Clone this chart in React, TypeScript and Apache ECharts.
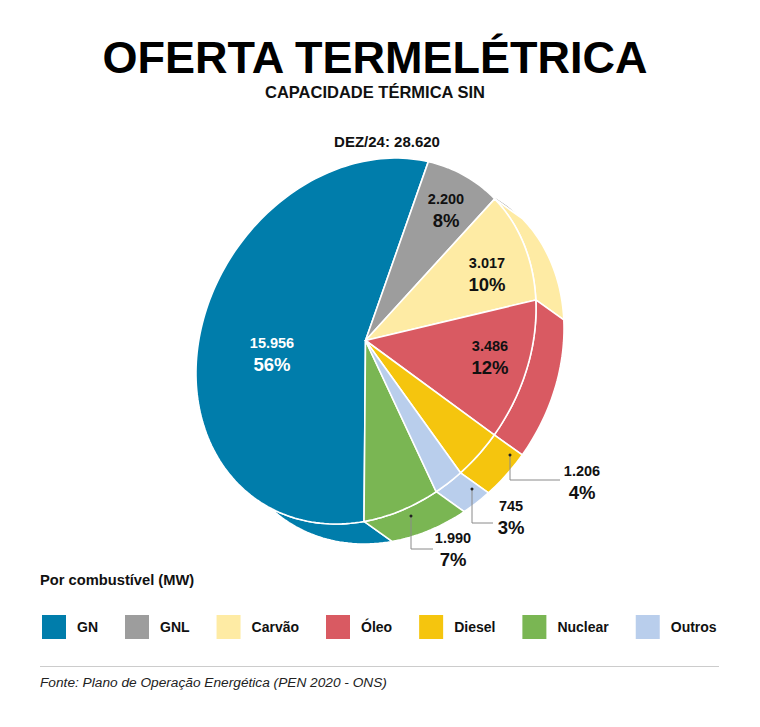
import React, { useEffect, useRef } from "react";
import * as echarts from "echarts";

const categories = ["GN", "GNL", "Carvão", "Óleo", "Diesel", "Nuclear", "Outros"];
const pieOrder = ["GN", "GNL", "Carvão", "Óleo", "Diesel", "Outros", "Nuclear"];
const capacityMW = [15956, 2200, 3017, 3486, 1206, 745, 1990];
const percentLabels = [56, 8, 10, 12, 4, 3, 7];
const colorsByName: Record<string, string> = {
  GN: "#007dab",
  GNL: "#9d9d9d",
  "Carvão": "#feeba4",
  "Óleo": "#d95a62",
  Diesel: "#f5c50e",
  Outros: "#b9ceec",
  Nuclear: "#7ab653",
};
// label centres per slice, in pie order
const labelPos = [[272, 343], [446, 199], [487, 263], [490, 346], [582, 471], [511, 506], [453, 538]];
// leader lines for the small slices: dot, elbow, end
const leaders: Record<string, number[][]> = {
  Diesel: [[510, 455], [510, 480], [560, 480]],
  Outros: [[472, 489], [472, 523], [493, 523]],
  Nuclear: [[411, 516], [411, 549], [433, 549]],
};

const FONT = "'Liberation Sans', Arial, sans-serif";
const CX = 366;
const CY = 341;
const DEPTH = [28, 20];
const START_DEG = 175.4;
const total = capacityMW.reduce((a, b) => a + b, 0);

const fmt = (v: number) => String(v).replace(/\B(?=(\d{3})+$)/g, ".");

function sliceAngles(i: number): [number, number] {
  let before = 0;
  for (let k = 0; k < i; k++) before += capacityMW[k];
  const a = START_DEG + (before / total) * 360;
  return [a, a + (capacityMW[i] / total) * 360];
}

function rimPoint(deg: number): number[] {
  const r = (deg * Math.PI) / 180;
  const s = Math.sin(r);
  const c = Math.cos(r);
  return [CX + 169.3 * s + 15.6 * c, CY - 15.6 * s - 182.3 * c];
}

function arc(a0: number, a1: number): number[][] {
  const n = Math.max(2, Math.ceil((a1 - a0) / 1.5));
  const pts: number[][] = [];
  for (let k = 0; k <= n; k++) pts.push(rimPoint(a0 + ((a1 - a0) * k) / n));
  return pts;
}

const topFaceSeries = (name: string) => {
  const i = pieOrder.indexOf(name);
  return {
    type: "custom",
    name,
    coordinateSystem: "none",
    z: 3,
    silent: true,
    itemStyle: { color: colorsByName[name] },
    data: [capacityMW[i]],
    renderItem: () => {
      const [a0, a1] = sliceAngles(i);
      const [lx, ly] = labelPos[i];
      const labelColor = name === "GN" ? "#ffffff" : "#111111";
      const children: any[] = [
        {
          type: "polygon",
          shape: { points: [[CX - 0.5, CY - 0.5], ...arc(a0, a1)] },
          style: { fill: colorsByName[name], stroke: "#ffffff", lineWidth: 1.6, lineJoin: "round" },
        },
        {
          type: "text",
          style: { x: lx, y: ly, text: fmt(capacityMW[i]), fill: labelColor, font: `bold 14.5px ${FONT}`, textAlign: "center", verticalAlign: "middle" },
        },
        {
          type: "text",
          style: { x: lx, y: ly + 21, text: `${percentLabels[i]}%`, fill: labelColor, font: `bold 18.5px ${FONT}`, textAlign: "center", verticalAlign: "middle" },
        },
      ];
      const leader = leaders[name];
      if (leader) {
        children.push({ type: "polyline", shape: { points: leader }, style: { fill: "none", stroke: "#8a8a8a", lineWidth: 1 } });
        children.push({ type: "circle", shape: { cx: leader[0][0], cy: leader[0][1], r: 1.5 }, style: { fill: "#222222" } });
      }
      return { type: "group", children };
    },
  };
};

const sideSeries = {
  type: "custom",
  name: "Lateral",
  coordinateSystem: "none",
  z: 2,
  silent: true,
  data: capacityMW,
  renderItem: (params: any) => {
    const i = params.dataIndex;
    const [a0, a1] = sliceAngles(i);
    const rim = arc(a0, a1);
    const shifted = rim.map(([x, y]) => [x + DEPTH[0], y + DEPTH[1]]).reverse();
    return {
      type: "polygon",
      shape: { points: [...rim, ...shifted] },
      style: { fill: colorsByName[pieOrder[i]], stroke: "#ffffff", lineWidth: 1.6, lineJoin: "round" },
    };
  },
};

export default function App() {
  const ref = useRef<HTMLDivElement>(null);
  useEffect(() => {
    document.body.style.margin = "0";
    const chart = echarts.init(ref.current!, undefined, { renderer: "svg" });
    chart.setOption({
      animation: false,
      backgroundColor: "#ffffff",
      color: categories.map((c) => colorsByName[c]),
      title: {
        text: "OFERTA TERMELÉTRICA",
        subtext: "CAPACIDADE TÉRMICA SIN",
        left: 375,
        top: 35,
        textAlign: "center",
        itemGap: 3,
        padding: 0,
        textStyle: { fontFamily: FONT, fontSize: 45, fontWeight: "bold", color: "#000000" },
        subtextStyle: { fontFamily: FONT, fontSize: 16.5, fontWeight: "bold", color: "#111111" },
      },
      legend: {
        data: categories,
        left: 42,
        top: 615,
        padding: 0,
        icon: "rect",
        itemWidth: 24,
        itemHeight: 24,
        itemGap: 27,
        selectedMode: false,
        textStyle: { fontFamily: FONT, fontSize: 14, fontWeight: "bold", color: "#111111", padding: [0, 0, 0, 6] },
      },
      graphic: [
        { type: "text", style: { x: 387, y: 141, text: `DEZ/24: ${fmt(28620)}`, fill: "#111111", font: `bold 15px ${FONT}`, textAlign: "center", verticalAlign: "middle" } },
        { type: "text", style: { x: 40, y: 580, text: "Por combustível (MW)", fill: "#111111", font: `bold 14.7px ${FONT}`, textAlign: "left", verticalAlign: "middle" } },
        { type: "line", shape: { x1: 40, y1: 666.5, x2: 719, y2: 666.5 }, style: { stroke: "#cccccc", lineWidth: 1 } },
        { type: "text", style: { x: 40, y: 682, text: "Fonte: Plano de Operação Energética (PEN 2020 - ONS)", fill: "#222222", font: `italic 13.7px ${FONT}`, textAlign: "left", verticalAlign: "middle" } },
      ],
      series: [...categories.map(topFaceSeries), sideSeries],
    });
    return () => chart.dispose();
  }, []);
  return <div ref={ref} style={{ position: "absolute", left: 0, top: 0, width: 760, height: 727 }} />;
}
